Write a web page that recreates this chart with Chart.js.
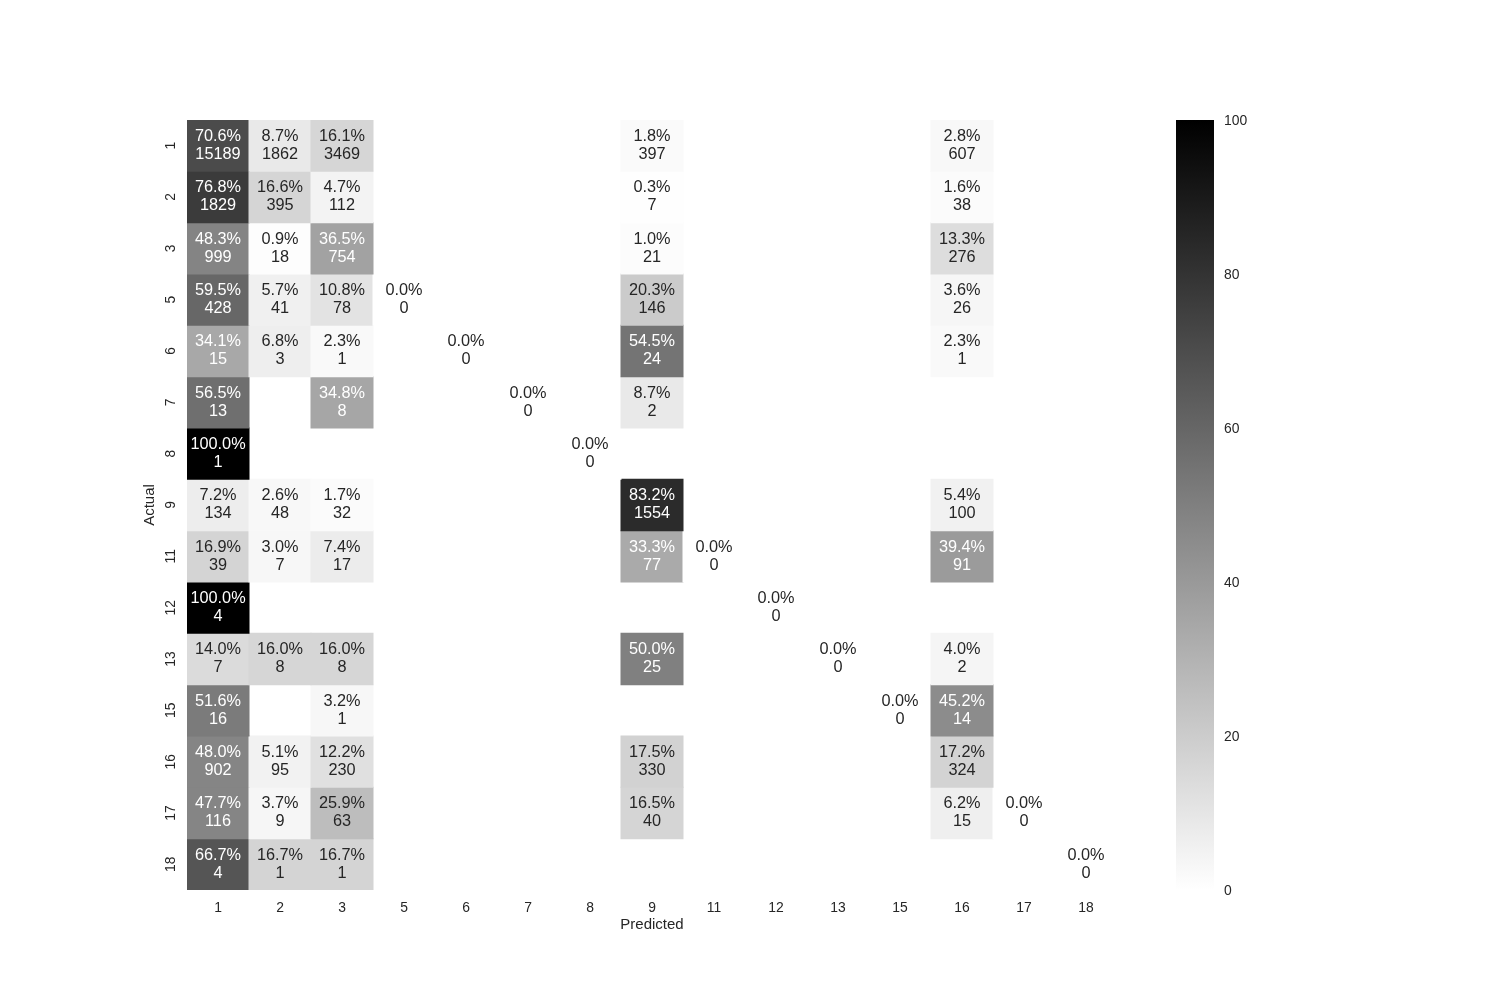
<!DOCTYPE html>
<html>
<head>
<meta charset="utf-8">
<script src="https://cdn.jsdelivr.net/npm/chart.js@4.4.1/dist/chart.umd.min.js"></script>
<style>
  html, body { margin: 0; padding: 0; background: #ffffff; }
  #wrap { position: relative; width: 1500px; height: 1000px; }
  #main { position: absolute; left: 0; top: 0; }
  #cbar { position: absolute; left: 1100px; top: 0; }
</style>
</head>
<body>
<div id="wrap">
  <canvas id="main" width="1500" height="1000"></canvas>
  <canvas id="cbar" width="200" height="1000"></canvas>
</div>
<script>
// ---------------- data ----------------
const actualLabels    = ['1','2','3','5','6','7','8','9','11','12','13','15','16','17','18'];
const predictedLabels = ['1','2','3','5','6','7','8','9','11','12','13','15','16','17','18'];
const colorbarTicks   = [0, 20, 40, 60, 80, 100];

// counts per actual class (rows) and predicted class (columns); null = empty cell
const counts = [
  [15189, 1862, 3469, null, null, null, null, 397, null, null, null, null, 607, null, null],
  [1829, 395, 112, null, null, null, null, 7, null, null, null, null, 38, null, null],
  [999, 18, 754, null, null, null, null, 21, null, null, null, null, 276, null, null],
  [428, 41, 78, 0, null, null, null, 146, null, null, null, null, 26, null, null],
  [15, 3, 1, null, 0, null, null, 24, null, null, null, null, 1, null, null],
  [13, null, 8, null, null, 0, null, 2, null, null, null, null, null, null, null],
  [1, null, null, null, null, null, 0, null, null, null, null, null, null, null, null],
  [134, 48, 32, null, null, null, null, 1554, null, null, null, null, 100, null, null],
  [39, 7, 17, null, null, null, null, 77, 0, null, null, null, 91, null, null],
  [4, null, null, null, null, null, null, null, null, 0, null, null, null, null, null],
  [7, 8, 8, null, null, null, null, 25, null, null, 0, null, 2, null, null],
  [16, null, 1, null, null, null, null, null, null, null, null, 0, 14, null, null],
  [902, 95, 230, null, null, null, null, 330, null, null, null, null, 324, null, null],
  [116, 9, 63, null, null, null, null, 40, null, null, null, null, 15, 0, null],
  [4, 1, 1, null, null, null, null, null, null, null, null, null, null, null, 0]
];
// row-normalised percentages
const percents = [
  [70.6, 8.7, 16.1, null, null, null, null, 1.8, null, null, null, null, 2.8, null, null],
  [76.8, 16.6, 4.7, null, null, null, null, 0.3, null, null, null, null, 1.6, null, null],
  [48.3, 0.9, 36.5, null, null, null, null, 1.0, null, null, null, null, 13.3, null, null],
  [59.5, 5.7, 10.8, 0.0, null, null, null, 20.3, null, null, null, null, 3.6, null, null],
  [34.1, 6.8, 2.3, null, 0.0, null, null, 54.5, null, null, null, null, 2.3, null, null],
  [56.5, null, 34.8, null, null, 0.0, null, 8.7, null, null, null, null, null, null, null],
  [100.0, null, null, null, null, null, 0.0, null, null, null, null, null, null, null, null],
  [7.2, 2.6, 1.7, null, null, null, null, 83.2, null, null, null, null, 5.4, null, null],
  [16.9, 3.0, 7.4, null, null, null, null, 33.3, 0.0, null, null, null, 39.4, null, null],
  [100.0, null, null, null, null, null, null, null, null, 0.0, null, null, null, null, null],
  [14.0, 16.0, 16.0, null, null, null, null, 50.0, null, null, 0.0, null, 4.0, null, null],
  [51.6, null, 3.2, null, null, null, null, null, null, null, null, 0.0, 45.2, null, null],
  [48.0, 5.1, 12.2, null, null, null, null, 17.5, null, null, null, null, 17.2, null, null],
  [47.7, 3.7, 25.9, null, null, null, null, 16.5, null, null, null, null, 6.2, 0.0, null],
  [66.7, 16.7, 16.7, null, null, null, null, null, null, null, null, null, null, null, 0.0]
];

// ---------------- helpers ----------------
const FONT = '"Liberation Sans", Arial, Helvetica, sans-serif';
const TEXT_DARK = '#262626';
function grayLevel(v) { return Math.round(255 * (1 - v / 100)); }
function cellColor(v) { const g = grayLevel(v); return `rgb(${g},${g},${g})`; }
function textColor(v) {
  const c = grayLevel(v) / 255;
  const lin = c <= 0.03928 ? c / 12.92 : Math.pow((c + 0.055) / 1.055, 2.4);
  return lin < 0.408 ? '#ffffff' : TEXT_DARK;
}

const datasets = actualLabels.map((lab, i) => ({
  label: 'Actual ' + lab,
  data: predictedLabels.map((p, j) => counts[i][j] === null ? null : [i - 0.5, i + 0.5]),
  backgroundColor: predictedLabels.map((p, j) => percents[i][j] === null ? 'rgba(0,0,0,0)' : cellColor(percents[i][j])),
  borderWidth: 0,
  borderSkipped: false,
  inflateAmount: 0.5,
  barPercentage: 1.0,
  categoryPercentage: 1.0,
  grouped: false
}));

const annotatePlugin = {
  id: 'annotate',
  afterDatasetsDraw(chart) {
    const ctx = chart.ctx;
    ctx.save();
    ctx.font = '16.3px ' + FONT;
    ctx.textAlign = 'center';
    ctx.textBaseline = 'middle';
    chart.data.datasets.forEach((ds, i) => {
      const meta = chart.getDatasetMeta(i);
      meta.data.forEach((el, j) => {
        const pct = percents[i][j];
        const cnt = counts[i][j];
        if (pct === null || cnt === null) return;
        const x = el.x;
        const yc = chart.scales.y.getPixelForValue(i);
        ctx.fillStyle = textColor(pct);
        ctx.fillText(pct.toFixed(1) + '%', x, yc - 9.3);
        ctx.fillText(String(cnt), x, yc + 8.8);
      });
    });
    ctx.restore();
  }
};

new Chart(document.getElementById('main'), {
  type: 'bar',
  data: { labels: predictedLabels, datasets },
  options: {
    responsive: false,
    animation: false,
    devicePixelRatio: 1,
    layout: { padding: { left: 141, top: 120, right: 383, bottom: 66 } },
    plugins: { legend: { display: false }, tooltip: { enabled: false } },
    scales: {
      x: {
        type: 'category',
        offset: true,
        grid: { display: false, drawTicks: false },
        border: { display: false },
        ticks: { color: TEXT_DARK, font: { family: FONT, size: 13.9 }, padding: 9.5, maxRotation: 0, autoSkip: false },
        title: { display: true, text: 'Predicted', color: TEXT_DARK, font: { family: FONT, size: 15 }, padding: 0 },
        afterFit(scale) { scale.height = 44; }
      },
      y: {
        type: 'linear',
        min: -0.5,
        max: 14.5,
        reverse: true,
        grid: { display: false, drawTicks: false },
        border: { display: false },
        afterBuildTicks(scale) { scale.ticks = actualLabels.map((_, i) => ({ value: i })); },
        ticks: {
          color: TEXT_DARK,
          font: { family: FONT, size: 13.9 },
          padding: 8,
          autoSkip: false,
          minRotation: 90,
          maxRotation: 90,
          crossAlign: 'center',
          callback: (v) => actualLabels[v]
        },
        title: { display: true, text: 'Actual', color: TEXT_DARK, font: { family: FONT, size: 15 }, padding: 0 },
        afterFit(scale) { scale.width = 46; }
      }
    }
  },
  plugins: [annotatePlugin]
});

// ---------------- colorbar ----------------
new Chart(document.getElementById('cbar'), {
  type: 'bar',
  data: {
    labels: [''],
    datasets: [{
      data: [[colorbarTicks[0], colorbarTicks[colorbarTicks.length - 1]]],
      borderWidth: 0,
      borderSkipped: false,
      barPercentage: 1.0,
      categoryPercentage: 1.0,
      backgroundColor(context) {
        const area = context.chart.chartArea;
        if (!area) return '#888';
        const g = context.chart.ctx.createLinearGradient(0, area.bottom, 0, area.top);
        g.addColorStop(0, cellColor(0));
        g.addColorStop(1, cellColor(100));
        return g;
      }
    }]
  },
  options: {
    responsive: false,
    animation: false,
    devicePixelRatio: 1,
    layout: { padding: { left: 76, top: 120, right: 0, bottom: 110 } },
    plugins: { legend: { display: false }, tooltip: { enabled: false } },
    scales: {
      x: { display: false, offset: true },
      y: {
        position: 'right',
        min: 0,
        max: 100,
        grid: { display: false, drawTicks: false },
        border: { display: false },
        afterBuildTicks(scale) { scale.ticks = colorbarTicks.map(v => ({ value: v })); },
        ticks: { color: TEXT_DARK, font: { family: FONT, size: 13.9 }, padding: 10, labelOffset: 1.5 },
        afterFit(scale) { scale.width = 86; }
      }
    }
  }
});
</script>
</body>
</html>
